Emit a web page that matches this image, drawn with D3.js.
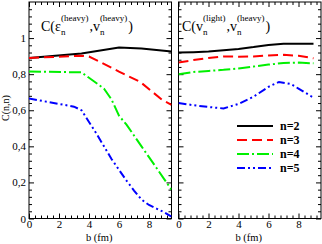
<!DOCTYPE html>
<html>
<head>
<meta charset="utf-8">
<script src="https://cdn.jsdelivr.net/npm/d3@7"></script>
<style>
  body { margin: 0; background: #fff; }
  svg { display: block; font-family: "Liberation Serif", "DejaVu Serif", serif; }
</style>
</head>
<body>
<div id="chart"></div>
<script>
// left panel: C(eps_n(heavy), v_n(heavy))
const bLeft = {
  n2: [0, 3.5, 6, 7.5, 9.5],
  n3: [0, 3.5, 4, 4.7, 6, 7.4, 8.9, 9.5],
  n4: [0, 3.5, 4, 5, 5.5, 6, 6.5, 7, 7.5, 8, 8.5, 9, 9.5],
  n5: [0, 1, 2, 3, 3.5, 4, 4.5, 5, 5.5, 6, 6.5, 7, 7.5, 8, 8.5, 9, 9.5]
}
const cLeft = {
  n2: [0.89, 0.915, 0.948, 0.942, 0.925],
  n3: [0.89, 0.902, 0.898, 0.87, 0.814, 0.758, 0.656, 0.63],
  n4: [0.815, 0.81, 0.78, 0.72, 0.66, 0.57, 0.52, 0.46, 0.40, 0.34, 0.28, 0.22, 0.16],
  n5: [0.665, 0.65, 0.635, 0.62, 0.60, 0.535, 0.47, 0.40, 0.33, 0.27, 0.21, 0.155, 0.105, 0.075, 0.055, 0.035, 0.01]
}
// right panel: C(v_n(light), v_n(heavy))
const bRight = {
  n2: [0, 1, 2, 3, 4, 5, 6, 7, 8, 9],
  n3: [0, 1, 2, 3, 4, 5, 6, 7, 8, 9],
  n4: [0, 1, 2, 3, 4, 5, 6, 7, 8, 9],
  n5: [0, 1, 2, 3, 4, 5, 6, 6.7, 7.5, 8, 8.5, 9]
}
const cRight = {
  n2: [0.92, 0.922, 0.925, 0.932, 0.94, 0.95, 0.962, 0.968, 0.968, 0.968],
  n3: [0.865, 0.878, 0.89, 0.898, 0.897, 0.898, 0.904, 0.907, 0.902, 0.888],
  n4: [0.80, 0.812, 0.818, 0.824, 0.832, 0.842, 0.853, 0.862, 0.864, 0.86],
  n5: [0.64, 0.628, 0.618, 0.61, 0.635, 0.675, 0.73, 0.757, 0.745, 0.72, 0.695, 0.67]
}
const seriesKeys = ['n2', 'n3', 'n4', 'n5']
const seriesNames = ['n=2', 'n=3', 'n=4', 'n=5']
const xMajor = [0, 2, 4, 6, 8]
const yMajor = [0, 0.2, 0.4, 0.6, 0.8, 1]

const colors = ['#000000', '#ff0000', '#00f000', '#0000ff']
const dashes = [null, '10,5', '12,3,2,3', '8,3,2,3,2,3']

const width = 322
const height = 244
const yTop = 2
const yBottom = 218.5
const panels = [
  { x0: 29, x1: 171.5, b: bLeft, c: cLeft, labels: true },
  { x0: 178.5, x1: 321, b: bRight, c: cRight, labels: false }
]

const locale = d3.formatLocale({ decimal: ',', thousands: '.', grouping: [3], currency: ['', ''] })
const fmt = locale.format('.1~f')

const svg = d3.select('#chart').append('svg')
  .attr('width', width)
  .attr('height', height)

const yScale = d3.scaleLinear().domain([0, 1.2]).range([yBottom, yTop])

panels.forEach((p, pi) => {
  const xScale = d3.scaleLinear().domain([0, 9.5]).range([p.x0, p.x1])
  const g = svg.append('g')
  const clipId = 'clip' + pi
  g.append('clipPath').attr('id', clipId)
    .append('rect')
    .attr('x', p.x0).attr('y', yTop)
    .attr('width', p.x1 - p.x0).attr('height', yBottom - yTop)

  const xMinor = d3.range(0, 9.5, 0.4).filter(v => !xMajor.some(m => Math.abs(m - v) < 1e-6))
  const yMinor = d3.range(0, 1.2, 0.04).filter(v => !yMajor.some(m => Math.abs(m - v) < 1e-6) && Math.abs(v) > 1e-6)

  const addAxis = (axisFn, scale, vals, size, transform, labelled, pad) => {
    const ax = g.append('g')
      .attr('transform', transform)
      .call(axisFn(scale).tickValues(vals).tickSizeInner(-size).tickSizeOuter(0)
        .tickPadding(pad || 3)
        .tickFormat(labelled ? fmt : ''))
      .attr('font-family', '"Liberation Serif", serif')
      .attr('font-size', 11)
    ax.select('.domain').remove()
    ax.selectAll('.tick line').attr('stroke', '#000').attr('stroke-width', 1)
    ax.selectAll('.tick text').attr('fill', '#000')
    return ax
  }
  addAxis(d3.axisBottom, xScale, xMajor, 5, `translate(0,${yBottom})`, true, 2)
  addAxis(d3.axisBottom, xScale, xMinor, 3, `translate(0,${yBottom})`, false)
  addAxis(d3.axisTop, xScale, xMajor, 5, `translate(0,${yTop})`, false)
  addAxis(d3.axisTop, xScale, xMinor, 3, `translate(0,${yTop})`, false)
  addAxis(d3.axisLeft, yScale, yMajor, 5, `translate(${p.x0},0)`, p.labels)
  addAxis(d3.axisLeft, yScale, yMinor, 3, `translate(${p.x0},0)`, false)
  addAxis(d3.axisRight, yScale, yMajor, 5, `translate(${p.x1},0)`, false)
  addAxis(d3.axisRight, yScale, yMinor, 3, `translate(${p.x1},0)`, false)

  g.append('rect')
    .attr('x', p.x0).attr('y', yTop)
    .attr('width', p.x1 - p.x0).attr('height', yBottom - yTop)
    .attr('fill', 'none').attr('stroke', '#000').attr('stroke-width', 1)

  const line = d3.line()
    .x(d => xScale(d[0]))
    .y(d => yScale(d[1]))

  seriesKeys.forEach((k, i) => {
    const pts = p.b[k].map((b, j) => [b, p.c[k][j]])
    g.append('path')
      .datum(pts)
      .attr('clip-path', `url(#${clipId})`)
      .attr('d', line)
      .attr('fill', 'none')
      .attr('stroke', colors[i])
      .attr('stroke-width', 2)
      .attr('stroke-dasharray', dashes[i])
  })

  svg.append('text')
    .attr('x', (p.x0 + p.x1) / 2 - 1)
    .attr('y', 241)
    .attr('text-anchor', 'middle')
    .attr('font-size', 10.5)
    .text('b (fm)')
})

// y label
svg.append('text')
  .attr('transform', 'translate(9,108) rotate(-90)')
  .attr('text-anchor', 'middle')
  .attr('font-size', 10)
  .text('C(n,n)')

// titles with stacked sub/superscripts
function title(x, base, parts) {
  const t = svg.append('g')
  let cx = x
  parts.forEach(pt => {
    if (pt.main) {
      const el = t.append('text').attr('x', cx).attr('y', base)
        .attr('font-size', 14).text(pt.main)
      cx += el.node().getComputedTextLength()
    } else {
      const sub = t.append('text').attr('x', cx).attr('y', base + 4)
        .attr('font-size', 9).text(pt.sub)
      const sup = t.append('text').attr('x', cx).attr('y', base - 10)
        .attr('font-size', 9).text(pt.sup)
      cx += Math.max(sub.node().getComputedTextLength(), sup.node().getComputedTextLength()) + 1
    }
  })
}
title(41, 31, [
  { main: 'C(ε' }, { sub: 'n', sup: '(heavy)' },
  { main: ',v' }, { sub: 'n', sup: '(heavy)' }, { main: ')' }
])
title(182, 31, [
  { main: 'C(v' }, { sub: 'n', sup: '(light)' },
  { main: ',v' }, { sub: 'n', sup: '(heavy)' }, { main: ')' }
])

// legend
const legend = svg.append('g').attr('transform', 'translate(237,126)')
seriesNames.forEach((name, i) => {
  const row = legend.append('g').attr('transform', `translate(0,${i * 14})`)
  row.append('line')
    .attr('x1', 0).attr('x2', 36).attr('y1', 0).attr('y2', 0)
    .attr('stroke', colors[i]).attr('stroke-width', 2)
    .attr('stroke-dasharray', dashes[i])
  row.append('text')
    .attr('x', 43).attr('y', 0).attr('dy', '0.35em')
    .attr('font-size', 12).attr('font-weight', 'bold')
    .text(name)
})
</script>
</body>
</html>
